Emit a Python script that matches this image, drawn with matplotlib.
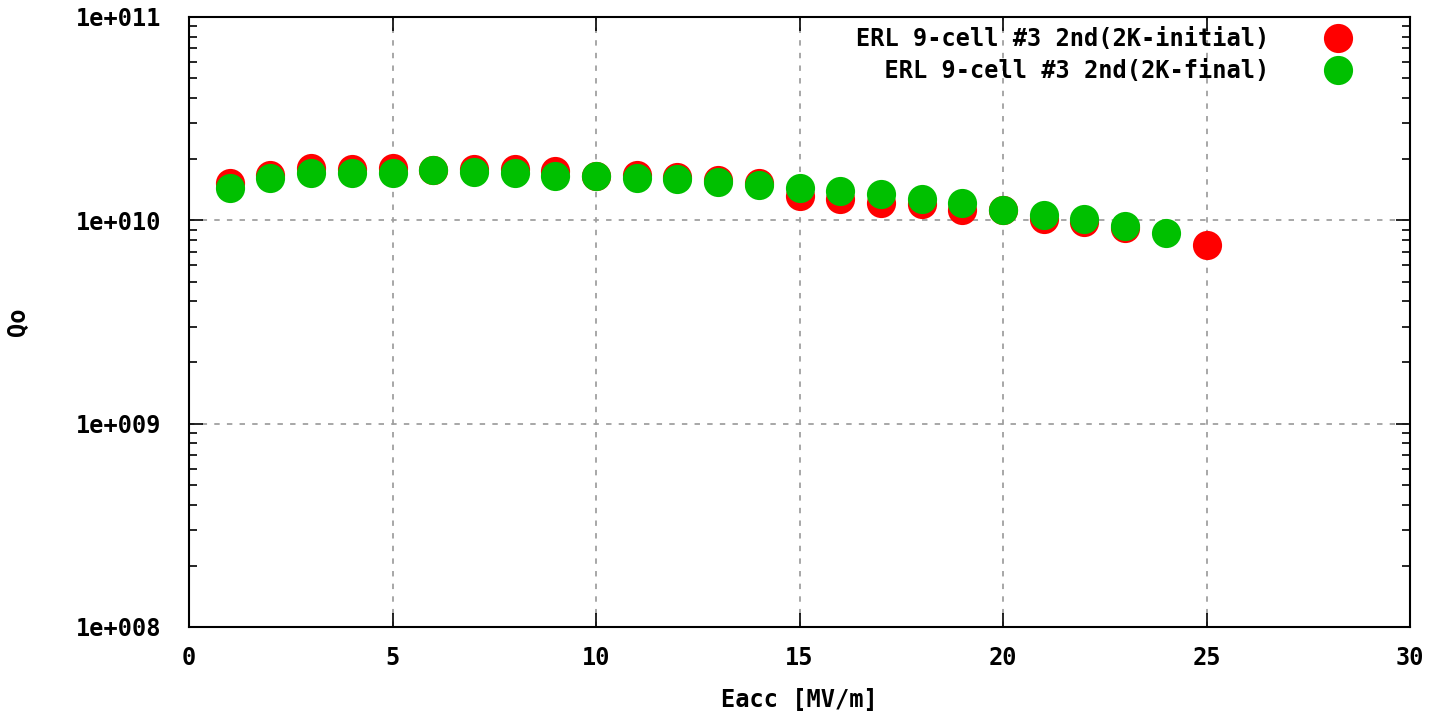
import matplotlib
matplotlib.use("Agg")
import matplotlib.pyplot as plt
from matplotlib.ticker import LogLocator, NullFormatter, FixedLocator

eacc_initial = [1, 2, 3, 4, 5, 6, 7, 8, 9, 10, 11, 12, 13, 14, 15, 16, 17, 18, 19, 20, 21, 22, 23, 25]
q0_initial = [1.52e10, 1.68e10, 1.80e10, 1.78e10, 1.80e10, 1.77e10, 1.78e10, 1.78e10, 1.74e10, 1.66e10,
              1.68e10, 1.64e10, 1.58e10, 1.53e10, 1.31e10, 1.28e10, 1.22e10, 1.20e10, 1.12e10, 1.12e10,
              1.02e10, 9.8e9, 9.2e9, 7.6e9]
eacc_final = [1, 2, 3, 4, 5, 6, 7, 8, 9, 10, 11, 12, 13, 14, 15, 16, 17, 18, 19, 20, 21, 22, 23, 24]
q0_final = [1.45e10, 1.61e10, 1.70e10, 1.71e10, 1.71e10, 1.77e10, 1.72e10, 1.70e10, 1.66e10, 1.65e10,
            1.62e10, 1.60e10, 1.55e10, 1.50e10, 1.45e10, 1.40e10, 1.34e10, 1.28e10, 1.22e10, 1.13e10,
            1.06e10, 1.02e10, 9.35e9, 8.63e9]
label_initial = "ERL 9-cell #3 2nd(2K-initial)"
label_final = "ERL 9-cell #3 2nd(2K-final)"
x_ticks = [0, 5, 10, 15, 20, 25, 30]
y_ticks = [1e8, 1e9, 1e10, 1e11]
y_tick_labels = ["1e+008", "1e+009", "1e+010", "1e+011"]

FONT = "DejaVu Sans Mono"
FS = 17

W, H = 1436, 713
fig = plt.figure(figsize=(W / 100, H / 100), dpi=100)
ax = fig.add_axes([189 / W, 1 - 627 / H, (1410 - 189) / W, (627 - 17) / H])

ax.plot(eacc_initial, q0_initial, linestyle="none", marker="o", markersize=21,
        color="#ff0000", markeredgewidth=0, label=label_initial, zorder=3)
ax.plot(eacc_final, q0_final, linestyle="none", marker="o", markersize=21,
        color="#00c000", markeredgewidth=0, label="  " + label_final, zorder=4)

ax.set_yscale("log")
ax.set_xlim(0, 30)
ax.set_ylim(1e8, 1e11)
ax.xaxis.set_major_locator(FixedLocator(x_ticks))
ax.set_xticklabels([str(t) for t in x_ticks], fontfamily=FONT, fontweight="bold", fontsize=FS)
ax.yaxis.set_major_locator(FixedLocator(y_ticks))
ax.set_yticklabels(y_tick_labels, fontfamily=FONT, fontweight="bold", fontsize=FS)
ax.yaxis.set_minor_locator(LogLocator(base=10, subs=range(2, 10)))
ax.yaxis.set_minor_formatter(NullFormatter())

ax.tick_params(which="both", direction="in", top=True, right=True, color="black")
ax.tick_params(which="major", length=10, width=1.2, pad=20)
ax.tick_params(axis="x", which="major", pad=14)
ax.tick_params(which="minor", length=6, width=1.2)

ax.grid(True, which="major", color="#a0a0a0", linestyle=(0, (3, 4)), linewidth=1.3)
for s in ax.spines.values():
    s.set_linewidth(1.5)
    s.set_color("black")

ax.set_xlabel("Eacc [MV/m]", fontfamily=FONT, fontweight="bold", fontsize=FS, va="center")
ax.xaxis.set_label_coords(0.5, -(700 - 627) / (627 - 17))
ax.set_ylabel("Qo", fontfamily=FONT, fontweight="bold", fontsize=FS)
ax.yaxis.set_label_coords((30 - 189) / (1410 - 189), 0.5)

leg = ax.legend(loc="upper right", bbox_to_anchor=(1350 / W, 1 - 27 / H), bbox_transform=fig.transFigure,
                frameon=False, markerfirst=False, borderaxespad=0, borderpad=0, labelspacing=0.35,
                handletextpad=2.4, handlelength=1.0,
                prop={"family": FONT, "weight": "bold", "size": FS})

fig.savefig("out.png", dpi=100)
